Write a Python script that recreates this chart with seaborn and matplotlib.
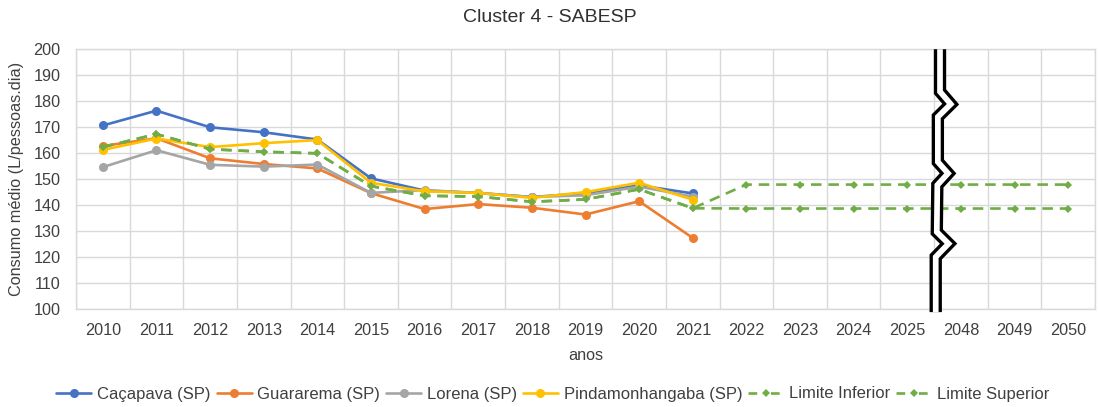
import numpy as np
import pandas as pd
import matplotlib
matplotlib.use("Agg")
import matplotlib.pyplot as plt
import seaborn as sns

# ---------------- data ----------------
years = ['2010', '2011', '2012', '2013', '2014', '2015', '2016', '2017', '2018',
         '2019', '2020', '2021', '2022', '2023', '2024', '2025', '2048', '2049', '2050']

cacapava = [170.5, 176.2, 169.8, 167.9, 165.1, 150.2, 145.5, 144.6, 143.0, 144.5, 147.5, 144.4]
guararema = [162.6, 165.6, 157.9, 155.7, 154.0, 144.5, 138.4, 140.3, 138.9, 136.3, 141.4, 127.3]
lorena = [154.5, 161.0, 155.4, 154.7, 155.5, 144.6, 145.7, 144.5, 143.0, 143.7, 147.0, 143.2]
pindamonhangaba = [161.1, 165.5, 162.2, 163.7, 164.9, 148.5, 145.2, 144.6, 142.7, 144.9, 148.5, 142.0]
limite_inferior = [162.2, 167.2, 161.4, 160.4, 159.8, 147.2, 143.5, 143.2, 141.2, 142.1, 146.0, 138.7,
                   138.6, 138.6, 138.6, 138.6, 138.6, 138.6, 138.6]
limite_superior = [162.2, 167.2, 161.4, 160.4, 159.8, 147.2, 143.5, 143.2, 141.2, 142.1, 146.0, 138.7,
                   147.8, 147.8, 147.8, 147.8, 147.8, 147.8, 147.8]

series = [
    ("Caçapava (SP)", cacapava, "#4472C4"),
    ("Guararema (SP)", guararema, "#ED7D31"),
    ("Lorena (SP)", lorena, "#A5A5A5"),
    ("Pindamonhangaba (SP)", pindamonhangaba, "#FFC000"),
]
limits = [
    ("Limite Inferior", limite_inferior, "#70AD47"),
    ("Limite Superior", limite_superior, "#70AD47"),
]

# ---------------- style ----------------
sns.set_theme(style="white")
plt.rcParams['font.family'] = ['Liberation Sans', 'DejaVu Sans']
FS = 11.7
TXT = '#404040'

fig = plt.figure(figsize=(10.99, 4.07), dpi=100)
ax = fig.add_axes([76 / 1099, 1 - 309 / 407, (1095 - 76) / 1099, (309 - 48.7) / 407])

pos = np.arange(len(years))

for name, vals, col in series:
    sns.lineplot(x=pos[:len(vals)], y=vals, ax=ax, color=col, marker='o',
                 markersize=6.5, markeredgewidth=0, linewidth=1.9, label=name,
                 zorder=3)

for name, vals, col in limits:
    sns.lineplot(x=pos[:len(vals)], y=vals, ax=ax, color=col, marker='D',
                 markersize=4.2, markeredgewidth=0, linewidth=1.9,
                 linestyle=(0, (4, 2.6)), label=name, zorder=4)

# axes
ax.set_xlim(-0.5, len(years) - 0.5)
ax.set_ylim(100, 200)
ax.set_yticks(np.arange(100, 201, 10))
ax.set_xticks(pos)
ax.set_xticklabels(years)
ax.set_xticks(np.arange(-0.5, len(years), 1), minor=True)
ax.grid(False)
ax.grid(True, which='minor', axis='x', color='#D9D9D9', linewidth=1.0)
ax.grid(True, which='major', axis='y', color='#D9D9D9', linewidth=1.0)
ax.set_axisbelow(True)
for s in ax.spines.values():
    s.set_color('#D9D9D9')
    s.set_linewidth(1.0)
ax.tick_params(axis='both', which='both', length=0, labelsize=FS, colors=TXT)
ax.tick_params(axis='x', pad=10)
ax.tick_params(axis='y', pad=11)

ax.set_xlabel("anos", fontsize=FS, color=TXT, labelpad=7)
ax.set_ylabel("Consumo médio (L/pessoas.dia)", fontsize=FS, color=TXT, labelpad=7)

fig.text(0.5, 1 - 18 / 407, "Cluster 4 - SABESP", ha='center', va='center',
         fontsize=14, color='#303030')

# axis break decoration
bx = [15.61, 15.61, 15.81, 15.57, 15.57, 15.76, 15.56, 15.55, 15.77, 15.53, 15.53]
by = [199.8, 183.5, 178.7, 173.8, 156.5, 152.1, 147.6, 129.6, 125.1, 120.0, 98.8]
ax.plot(bx, by, color='black', linewidth=8.9, solid_joinstyle='miter',
        solid_capstyle='butt', clip_on=False, zorder=6)
ax.plot(bx, by, color='white', linewidth=4.1, solid_joinstyle='miter',
        solid_capstyle='butt', clip_on=False, zorder=7)

# legend
handles, labels = ax.get_legend_handles_labels()
ax.get_legend().remove()
leg = fig.legend(handles, labels, loc='center', bbox_to_anchor=(0.503, 1 - 394 / 407),
                 ncol=6, frameon=False, fontsize=12, handlelength=2.1,
                 columnspacing=0.35, handletextpad=0.35)
for t in leg.get_texts():
    t.set_color(TXT)
for h in leg.legend_handles[4:]:
    h.set_linestyle((0, (3.3, 5.2)))

fig.savefig("out.png", dpi=100)
